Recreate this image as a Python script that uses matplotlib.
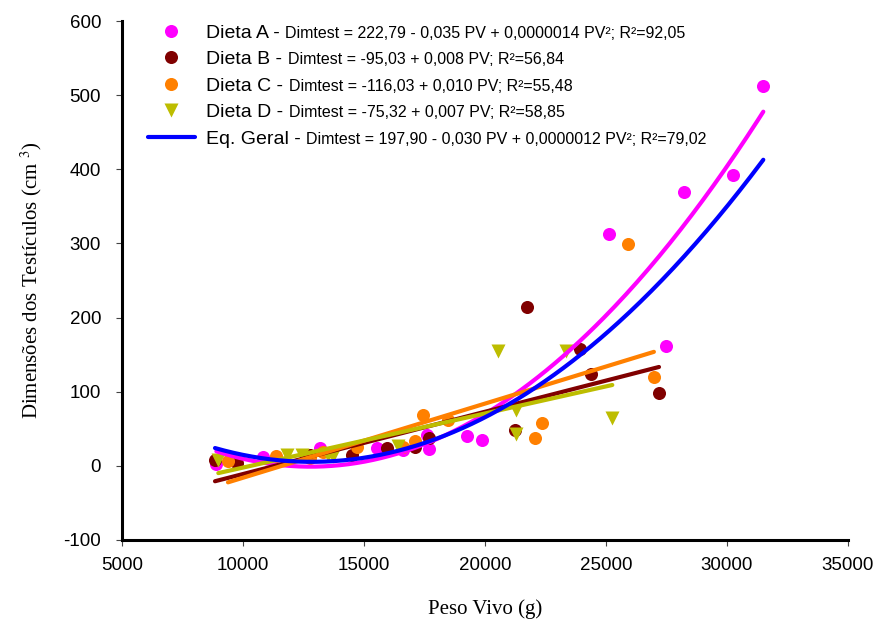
import numpy as np
import matplotlib
matplotlib.use("Agg")
import matplotlib.pyplot as plt

plt.rcParams['font.family'] = ['Liberation Sans', 'DejaVu Sans']
plt.rcParams['mathtext.fontset'] = 'stix'

# ---- data ----
a_x = [8900, 10840, 13180, 15520, 16600, 17590, 17690, 19240, 19890, 25140, 27480, 28240, 30240, 31500]
a_y = [3, 12, 24, 24, 22, 42, 23, 40, 35, 313, 162, 370, 392, 512]

b_x = [8843, 9740, 12770, 14490, 15940, 17110, 17690, 21240, 21750, 23930, 24380, 27190]
b_y = [8, 4, 15, 15, 24, 26, 38, 48, 214, 157, 124, 98]

c_x = [9380, 11370, 12770, 13310, 14720, 16610, 17110, 17420, 18490, 22080, 22340, 25900, 26980]
c_y = [6, 13, 10, 19, 26, 26, 33, 69, 62, 38, 58, 299, 120]

d_x = [8980, 11800, 12450, 13500, 13700, 16400, 20550, 21280, 21280, 23350, 25260]
d_y = [8, 14, 14, 15, 13, 27, 155, 75, 43, 155, 65]

# regression coefficients (constant, linear, quadratic) as drawn
coef_a = [222.79, -0.035, 1.368e-6]
coef_b = [-95.03, 0.0084]
coef_c = [-116.03, 0.010]
coef_d = [-75.32, 0.0073]
coef_g = [197.90, -0.030, 1.169e-6]

labels = ["Dieta A - ", "Dieta B - ", "Dieta C - ", "Dieta D - ", "Eq. Geral - "]
equations = [
    "Dimtest = 222,79 - 0,035 PV + 0,0000014 PV\u00b2; R\u00b2=92,05",
    "Dimtest = -95,03 + 0,008 PV; R\u00b2=56,84",
    "Dimtest = -116,03 + 0,010 PV; R\u00b2=55,48",
    "Dimtest = -75,32 + 0,007 PV; R\u00b2=58,85",
    "Dimtest = 197,90 - 0,030 PV + 0,0000012 PV\u00b2; R\u00b2=79,02",
]
x_ticks = [5000, 10000, 15000, 20000, 25000, 30000, 35000]
y_ticks = [-100, 0, 100, 200, 300, 400, 500, 600]

col_a = '#FF00FF'
col_b = '#800000'
col_c = '#FF8000'
col_d = '#BDBD00'
col_g = '#0000FF'

W, H = 878, 624
fig = plt.figure(figsize=(W / 100, H / 100), dpi=100)
ax = fig.add_axes([122 / W, 1 - 540 / H, (848 - 122) / W, (540 - 21) / H])

ms = 9.4
h_a, = ax.plot(a_x, a_y, 'o', color=col_a, ms=ms, mec='none', label=labels[0], zorder=2)
h_b, = ax.plot(b_x, b_y, 'o', color=col_b, ms=ms, mec='none', label=labels[1], zorder=2)
h_c, = ax.plot(c_x, c_y, 'o', color=col_c, ms=ms, mec='none', label=labels[2], zorder=2)
h_d, = ax.plot(d_x, d_y, 'v', color=col_d, ms=ms + 0.5, mec='none', label=labels[3], zorder=2)


def poly(coef, xs):
    xs = np.asarray(xs, dtype=float)
    return sum(c * xs ** i for i, c in enumerate(coef))


lw = 3.0
for xs, coef, col in [(a_x, coef_a, col_a), (b_x, coef_b, col_b),
                      (c_x, coef_c, col_c), (d_x, coef_d, col_d)]:
    xx = np.linspace(min(xs), max(xs), 200)
    ax.plot(xx, poly(coef, xx), color=col, lw=lw, solid_capstyle='round', zorder=3)

all_x = a_x + b_x + c_x + d_x
xx = np.linspace(min(all_x), max(all_x), 300)
h_g, = ax.plot(xx, poly(coef_g, xx), color=col_g, lw=lw, solid_capstyle='round',
               label=labels[4], zorder=4)

ax.set_xlim(5000, 35000)
ax.set_ylim(-100, 600)
ax.set_xticks(x_ticks)
ax.set_yticks(y_ticks)
ax.set_xticklabels([str(v) for v in x_ticks])
ax.set_yticklabels([str(v) for v in y_ticks])
for s in ['top', 'right']:
    ax.spines[s].set_visible(False)
for s in ['left', 'bottom']:
    ax.spines[s].set_linewidth(2.2)
ax.tick_params(axis='both', direction='out', length=4, width=0.8, color='#444444',
               labelsize=13.5)
ax.tick_params(axis='y', pad=11)
ax.tick_params(axis='x', pad=8)

ax.set_xlabel("Peso Vivo (g)", family='Liberation Serif', fontsize=15)
ax.xaxis.set_label_coords(0.5, -0.115)
ax.set_ylabel("Dimensões dos Testículos (cm $^{3}$)", family='Liberation Serif', fontsize=15)
ax.yaxis.set_label_coords(-0.108, 0.5)

leg = ax.legend(handles=[h_a, h_b, h_c, h_d, h_g], labels=labels,
                loc='upper left', bbox_to_anchor=(148 / W, 1 - 24 / H),
                bbox_transform=fig.transFigure, frameon=False, fontsize=14,
                handlelength=2.4, handletextpad=0.6, labelspacing=0.46,
                borderpad=0, borderaxespad=0, numpoints=1)

fig.canvas.draw()
renderer = fig.canvas.get_renderer()
for txt, eq in zip(leg.get_texts(), equations):
    bb = txt.get_window_extent(renderer)
    fig.text(bb.x1 / W, (bb.y0 + 1) / H, eq, va='bottom', ha='left', fontsize=11.5)

fig.savefig("out.png", dpi=100)
